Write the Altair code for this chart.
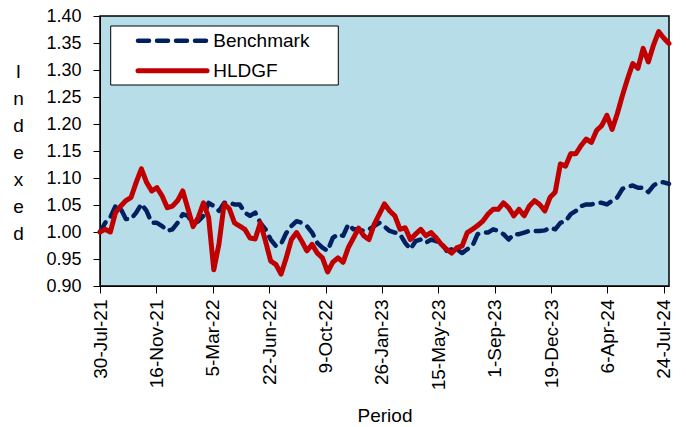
import altair as alt
import pandas as pd

# 10-day sampling grid starting 30-Jul-21 (111 points, to 3-Aug-24)
dates = pd.date_range("2021-07-30", periods=111, freq="10D").strftime("%Y-%m-%d").tolist()

benchmark = [
    1.000, 1.017, 1.027, 1.048, 1.043, 1.024, 1.024, 1.036, 1.052, 1.039,
    1.017, 1.017, 1.011, 1.002, 1.005, 1.017, 1.033, 1.030, 1.015, 1.020,
    1.030, 1.054, 1.048, 1.039, 1.054, 1.054, 1.051, 1.051, 1.036, 1.030,
    1.036, 1.017, 1.005, 0.986, 0.974, 0.978, 0.998, 1.011, 1.020, 1.017,
    1.011, 0.999, 0.980, 0.971, 0.965, 0.989, 0.996, 0.993, 1.014, 1.005,
    1.005, 1.002, 1.005, 1.011, 1.017, 1.010, 1.002, 0.999, 0.996, 0.980,
    0.968, 0.983, 0.986, 0.980, 0.986, 0.983, 0.980, 0.965, 0.968, 0.968,
    0.961, 0.968, 0.974, 0.996, 0.999, 0.999, 1.005, 1.002, 0.996, 0.986,
    0.996, 0.996, 0.999, 1.002, 1.002, 1.002, 1.003, 1.008, 1.005, 1.017,
    1.020, 1.033, 1.039, 1.048, 1.051, 1.051, 1.054, 1.054, 1.051, 1.058,
    1.064, 1.080, 1.084, 1.086, 1.082, 1.082, 1.074, 1.086, 1.092, 1.092,
    1.089,
]

hldgf = [
    1.000, 1.005, 1.000, 1.036, 1.048, 1.058, 1.064, 1.092, 1.117, 1.092,
    1.076, 1.082, 1.067, 1.045, 1.048, 1.058, 1.076, 1.043, 1.010, 1.027,
    1.054, 1.027, 0.930, 0.978, 1.052, 1.043, 1.017, 1.011, 1.005, 0.989,
    0.987, 1.017, 0.983, 0.946, 0.940, 0.922, 0.952, 0.986, 0.999, 0.983,
    0.965, 0.977, 0.961, 0.952, 0.926, 0.944, 0.952, 0.944, 0.971, 0.989,
    1.007, 0.993, 0.986, 1.014, 1.033, 1.052, 1.039, 1.030, 1.005, 1.008,
    0.986, 0.996, 1.005, 0.993, 0.999, 0.989, 0.977, 0.968, 0.961, 0.971,
    0.974, 0.999, 1.005, 1.012, 1.020, 1.033, 1.042, 1.042, 1.054, 1.045,
    1.030, 1.042, 1.030, 1.048, 1.058, 1.051, 1.039, 1.064, 1.074, 1.126,
    1.122, 1.145, 1.145, 1.160, 1.172, 1.166, 1.188, 1.197, 1.216, 1.190,
    1.219, 1.253, 1.284, 1.312, 1.303, 1.340, 1.315, 1.346, 1.371, 1.359,
    1.349,
]

series_names = ["Benchmark", "HLDGF"]
series_colors = ["#002060", "#C00000"]
series_dash = [[11, 8], [1, 0]]
series_width = [4.5, 5]

tick_dates = ["2021-07-30", "2021-11-16", "2022-03-05", "2022-06-22", "2022-10-09",
              "2023-01-26", "2023-05-15", "2023-09-01", "2023-12-19", "2024-04-06",
              "2024-07-24"]
y_ticks = [0.90, 0.95, 1.00, 1.05, 1.10, 1.15, 1.20, 1.25, 1.30, 1.35, 1.40]

df = pd.concat([
    pd.DataFrame({"Date": dates, "Value": benchmark, "Series": series_names[0]}),
    pd.DataFrame({"Date": dates, "Value": hldgf, "Series": series_names[1]}),
], ignore_index=True)

tick_ms = [int(pd.Timestamp(d, tz="UTC").value // 10**6) for d in tick_dates]
domain_ms = [int(pd.Timestamp(dates[0], tz="UTC").value // 10**6),
             int(pd.Timestamp(dates[-1], tz="UTC").value // 10**6)]

FONT = "Liberation Sans"

lines = alt.Chart(df).mark_line(strokeCap="round", strokeJoin="round").encode(
    x=alt.X("Date:T",
            scale=alt.Scale(type="utc", domain=domain_ms, nice=False),
            axis=alt.Axis(values=tick_ms, format="%-d-%b-%y", labelAngle=-90,
                          labelAlign="right", labelBaseline="middle",
                          labelFontSize=19, labelPadding=6, tickSize=7,
                          title="Period", titleFontSize=19, titleFontWeight="normal",
                          titleY=129, titleBaseline="middle",
                          grid=False, domainColor="black", tickColor="black",
                          labelColor="black", titleColor="black", labelFlush=False,
                          labelOverlap=False)),
    y=alt.Y("Value:Q",
            scale=alt.Scale(domain=[0.90, 1.40], nice=False, zero=False),
            axis=alt.Axis(values=y_ticks, format=".2f", labelFontSize=18,
                          labelPadding=12, tickSize=7, grid=False,
                          title=["I", "n", "d", "e", "x", "e", "d"],
                          titleAngle=0, titleFontSize=19, titleFontWeight="normal",
                          titleLineHeight=27, titleX=-82, titleY=55,
                          titleAlign="center", titleBaseline="middle",
                          domainColor="black", tickColor="black",
                          labelColor="black", titleColor="black", labelFlush=False,
                          labelOverlap=False)),
    color=alt.Color("Series:N", scale=alt.Scale(domain=series_names, range=series_colors),
                    legend=None),
    strokeDash=alt.StrokeDash("Series:N",
                              scale=alt.Scale(domain=series_names, range=series_dash),
                              legend=None),
    strokeWidth=alt.StrokeWidth("Series:N",
                                scale=alt.Scale(domain=series_names, range=series_width),
                                legend=None),
)

one = pd.DataFrame({"k": [0]})

legend_box = alt.Chart(one).mark_rect(fill="white", stroke="black", strokeWidth=1).encode(
    x=alt.value(10.7), x2=alt.value(238.3), y=alt.value(10), y2=alt.value(69)
)
legend_bench = alt.Chart(one).mark_rule(
    color=series_colors[0], strokeWidth=series_width[0], strokeDash=series_dash[0], strokeCap="round"
).encode(x=alt.value(38), x2=alt.value(107), y=alt.value(24.7))
legend_hldgf = alt.Chart(one).mark_rule(
    color=series_colors[1], strokeWidth=series_width[1], strokeCap="round"
).encode(x=alt.value(38), x2=alt.value(107), y=alt.value(54.7))
legend_text1 = alt.Chart(one).mark_text(
    align="left", baseline="middle", font=FONT, fontSize=19, color="black"
).encode(x=alt.value(113.3), y=alt.value(24.7), text=alt.value(series_names[0]))
legend_text2 = alt.Chart(one).mark_text(
    align="left", baseline="middle", font=FONT, fontSize=19, color="black"
).encode(x=alt.value(113.3), y=alt.value(54.7), text=alt.value(series_names[1]))

chart = alt.layer(
    lines, legend_box, legend_bench, legend_hldgf, legend_text1, legend_text2
).properties(
    width=569, height=270,
    autosize=alt.AutoSizeParams(type="none"),
    padding={"left": 92, "top": 8, "right": 9, "bottom": 150},
).configure_view(
    fill="#B7DDE8", stroke="black", strokeWidth=1.5
).configure_axis(
    labelFont=FONT, titleFont=FONT
)

chart.save("out.html", embed_options={"renderer": "svg", "actions": False})
